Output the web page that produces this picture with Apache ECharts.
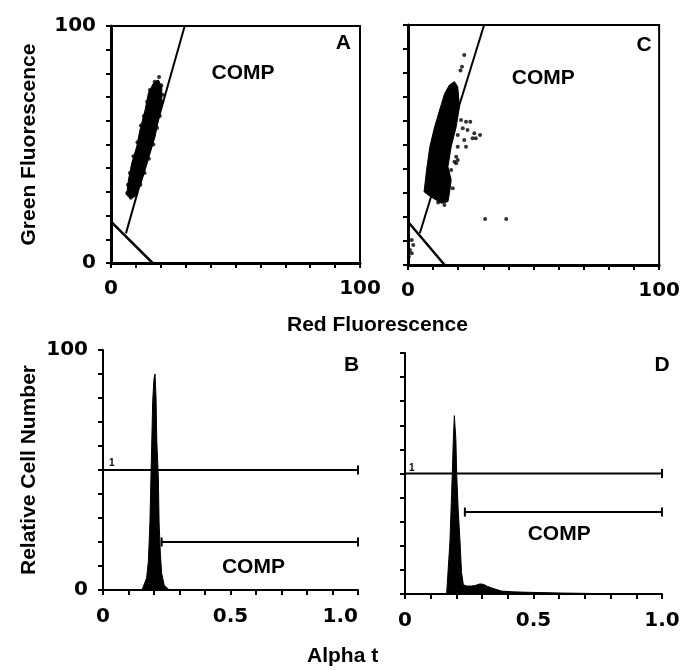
<!DOCTYPE html>
<html><head><meta charset="utf-8">
<script src="https://cdn.jsdelivr.net/npm/echarts@6/dist/echarts.min.js"></script>
<style>html,body{margin:0;padding:0;background:#fff}#c{width:683px;height:670px}</style>
</head><body><div id="c"></div>
<script>
// ---- tick labels ----
const scatterTickValues = [0, 100];
const scatterTickLabels = ['0', '100'];
const histTickValues = [0, 0.5, 1.0];
const histTickLabels = ['0', '0.5', '1.0'];
const countTickValues = [0, 100];
const countTickLabels = ['0', '100'];

// ---- Panel A (Red vs Green fluorescence) ----
const aClusterOutline = [[6.3,28.7],[7,35],[8.3,42],[10.3,49],[11.6,56],[13.7,64.6],[15,71.6],[17,75.8],[19,77.2],[20.4,74.4],[20.4,67.4],[19,60.3],[17.7,53.3],[15.7,46.3],[13.7,39.2],[11.6,32.2],[9.6,28],[7.6,27.3]];
const aPoints = [[19.3,78.5],[18.7,76.5],[20.2,75],[20.8,71],[20.6,68],[19.6,62],[18.5,57],[17,50],[15.2,44],[13.5,38],[11.8,33],[10,29],[8,27.5],[6.5,29.5],[6.8,33],[7.6,38],[9,45],[10.6,51],[12,58],[13.2,62],[14.5,68],[15.6,73],[17.5,76.5]];
const aGateLine = [[6,12.5],[29.6,100]];
const aTriangle = [[0,17.5],[16.7,0]];

// ---- Panel C ----
const cClusterOutline = [[6.4,30.5],[7.4,39.6],[8.7,49.3],[10.6,57.6],[12.6,64.6],[14.6,71.5],[16.5,75],[18.5,76.4],[19.8,74.3],[20.5,66],[19.2,57.6],[17.2,49.3],[15.9,41],[17.2,35.4],[16.5,29.9],[15.9,26.4],[13.3,25.7],[11.3,27],[8,29.2]];
const cPoints = [[22.4,87.5],[21.5,82.6],[20.9,81],[21.1,60.4],[23.1,59.7],[24.8,59.7],[21.8,57],[23.7,56.3],[26.4,54.9],[28.7,54.2],[25.7,52.8],[19.8,54.2],[22.4,52.1],[23.1,49.3],[27,52.8],[19.8,49.3],[19.2,45.1],[18.5,43],[19.2,42.4],[19.8,43.8],[17.2,39.6],[15.9,35.4],[30.7,19.2],[39.1,19.2],[1.5,10.4],[0.8,6.2],[2.1,8.3],[0.3,3.5],[1.5,4.9],[17.8,32],[14.5,25],[12,26]];
const cGateLine = [[4.7,13.2],[30.3,100]];
const cTriangle = [[0,18],[14.6,0]];

// ---- Panel B histogram ----
const bAlpha = [0.153,0.171,0.178,0.184,0.188,0.195,0.200,0.204,0.208,0.211,0.217,0.220,0.225,0.230,0.240,0.250,0.260];
const bCount = [0,5,12,28,47,79,88,90,80,62,47,28,15,7,2,1,0];
const bGate1 = [[0,50],[1.0,50]];
const bGateComp = [[0.23,20],[1.0,20]];

// ---- Panel D histogram ----
const dAlpha = [0.162,0.175,0.184,0.188,0.192,0.198,0.201,0.207,0.214,0.220,0.227,0.240,0.259,0.275,0.292,0.305,0.320,0.337,0.376,0.420,0.480,0.610,0.740,0.850];
const dCount = [0,22,50,64,74,64,50,35,22,9,3.8,3.3,3.3,3.6,4.2,4,3.2,2.5,1.2,0.9,0.7,0.4,0.2,0];
const dGate1 = [[0,50],[1.0,50]];
const dGateComp = [[0.233,34],[1.0,34]];

// ---- annotations ----
const aTexts = [[53,80,'COMP',21],[93.3,92.7,'A',21]];
const cTexts = [[53.9,77.8,'COMP',21],[94,91.7,'C',21]];
const bTexts = [[0.59,9.7,'COMP',21],[0.975,93.75,'B',21],[0.034,52.8,'1',10]];
const dTexts = [[0.6,25,'COMP',21],[1.0,95,'D',21],[0.026,52,'1',10]];

const FONT = '"Liberation Sans", Arial, Helvetica, sans-serif';
const NUMFONT = '"DejaVu Sans", "Liberation Sans", sans-serif';
const chart = echarts.init(document.getElementById('c'));

function lbl(values, labels, extra) {
  return Object.assign({
    show: true, color: '#000', fontFamily: NUMFONT, fontWeight: 'bold', fontSize: 20,
    formatter: v => { const i = values.findIndex(t => Math.abs(t - v) < 1e-6); return i < 0 ? '' : labels[i]; }
  }, extra || {});
}
function axis(gi, min, max, interval, values, labels, lw, extraLabel) {
  return {
    gridIndex: gi, type: 'value', min, max, interval,
    axisLine: { show: true, onZero: false, lineStyle: { color: '#000', width: lw } },
    axisTick: { show: true, inside: false, length: 5, lineStyle: { color: '#000', width: 2 } },
    axisLabel: lbl(values, labels, extraLabel),
    splitLine: { show: false }
  };
}
function polygonSeries(gi, outline) {
  return {
    type: 'custom', xAxisIndex: gi, yAxisIndex: gi, data: [0], silent: true,
    renderItem: (params, api) => ({
      type: 'polygon',
      shape: { points: outline.map(p => api.coord(p)) },
      style: { fill: '#000', stroke: '#000', lineWidth: 1 }
    })
  };
}
function pointSeries(gi, pts, size) {
  return { type: 'scatter', xAxisIndex: gi, yAxisIndex: gi, data: pts, symbolSize: size, itemStyle: { color: '#000' }, silent: true };
}
function lineSeries(gi, pts, w, caps) {
  return {
    type: 'line', xAxisIndex: gi, yAxisIndex: gi, data: pts,
    symbol: caps ? 'rect' : 'none', symbolSize: [2, 9], showSymbol: !!caps,
    itemStyle: { color: '#000' }, lineStyle: { color: '#000', width: w }, silent: true, clip: false
  };
}
function histSeries(gi, xs, ys) {
  return {
    type: 'line', xAxisIndex: gi, yAxisIndex: gi, data: xs.map((x, i) => [x, ys[i]]),
    showSymbol: false, symbol: 'none', lineStyle: { color: '#000', width: 1 },
    areaStyle: { color: '#000', opacity: 1 }, silent: true
  };
}
function textSeries(gi, items) {
  return {
    type: 'scatter', xAxisIndex: gi, yAxisIndex: gi, symbolSize: 1, clip: false, silent: true,
    itemStyle: { color: '#fff', opacity: 1 },
    data: items.map(t => ({ value: [t[0], t[1]], label: { show: true, position: 'inside', formatter: t[2], color: '#000', opacity: 1, textBorderWidth: 0, fontFamily: FONT, fontWeight: 'bold', fontSize: t[3] } }))
  };
}
const nameStyle = { color: '#000', fontFamily: FONT, fontWeight: 'bold', fontSize: 21 };

const option = {
  animation: false,
  backgroundColor: '#fff',
  grid: [
    { left: 111, top: 26, width: 249, height: 237, show: true, borderColor: '#000', borderWidth: 2, backgroundColor: 'transparent' },
    { left: 408, top: 25, width: 254, height: 240, show: true, borderColor: '#000', borderWidth: 2, backgroundColor: 'transparent' },
    { left: 103, top: 350, width: 255, height: 240 },
    { left: 405, top: 353, width: 257, height: 241 }
  ],
  xAxis: [
    axis(0, 0, 100, 10, scatterTickValues, scatterTickLabels, 3, { margin: 16 }),
    axis(1, 0, 100, 10, scatterTickValues, scatterTickLabels, 3, { margin: 16 }),
    axis(2, 0, 1, 0.1, histTickValues, histTickLabels, 2, { margin: 17, alignMaxLabel: 'right' }),
    axis(3, 0, 1, 0.1, histTickValues, histTickLabels, 2, { margin: 17 })
  ],
  yAxis: [
    Object.assign(axis(0, 0, 100, 10, scatterTickValues, scatterTickLabels, 3, { margin: 15 }), {
      name: 'Green Fluorescence', nameLocation: 'middle', nameGap: 71, nameRotate: 90, nameTextStyle: nameStyle
    }),
    axis(1, 0, 100, 10, scatterTickValues, scatterTickLabels, 3, { show: false }),
    Object.assign(axis(2, 0, 100, 10, countTickValues, countTickLabels, 2, { margin: 15 }), {
      name: 'Relative Cell Number', nameLocation: 'middle', nameGap: 63, nameRotate: 90, nameTextStyle: nameStyle
    }),
    axis(3, 0, 100, 10, countTickValues, countTickLabels, 2, { show: false })
  ],
  graphic: [
    { type: 'text', left: 287, top: 315, style: { text: 'Red Fluorescence', fill: '#000', font: 'bold 21px ' + FONT } },
    { type: 'text', left: 307, top: 646, style: { text: 'Alpha t', fill: '#000', font: 'bold 21px ' + FONT } }
  ],
  series: [
    polygonSeries(0, aClusterOutline), pointSeries(0, aPoints, 4),
    lineSeries(0, aGateLine, 2, false), lineSeries(0, aTriangle, 2.5, false), textSeries(0, aTexts),
    polygonSeries(1, cClusterOutline), pointSeries(1, cPoints, 4),
    lineSeries(1, cGateLine, 2, false), lineSeries(1, cTriangle, 2.5, false), textSeries(1, cTexts),
    histSeries(2, bAlpha, bCount), lineSeries(2, bGate1, 2, true), lineSeries(2, bGateComp, 2, true), textSeries(2, bTexts),
    histSeries(3, dAlpha, dCount), lineSeries(3, dGate1, 2, true), lineSeries(3, dGateComp, 2, true), textSeries(3, dTexts)
  ]
};
chart.setOption(option);
</script>
</body></html>
